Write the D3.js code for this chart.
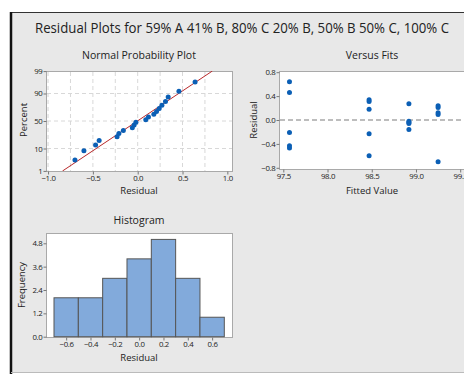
<!DOCTYPE html>
<html>
<head>
<meta charset="utf-8">
<script src="https://cdn.jsdelivr.net/npm/d3@7"></script>
<style>
  html, body { margin: 0; padding: 0; background: #fff; }
  svg text { font-family: "Open Sans", "Noto Sans", sans-serif; fill: #222; }
</style>
</head>
<body>
<div id="chart"></div>
<script>
// Data
const fittedValues = [97.57, 98.47, 98.92, 99.25]
const residualsA = [0.64, 0.46, -0.21, -0.43, -0.47]   // fit 97.57
const residualsB = [0.34, 0.31, 0.18, -0.23, -0.60]    // fit 98.47
const residualsC = [0.27, -0.02, -0.04, -0.06, -0.16]  // fit 98.92
const residualsD = [0.24, 0.21, 0.12, 0.09, -0.70]     // fit 99.25
const histCenters = [-0.6, -0.4, -0.2, 0.0, 0.2, 0.4, 0.6]
const histCounts = [2, 2, 3, 4, 5, 3, 1]

const percentTicks = [1, 10, 50, 90, 99]
const probXTicks = [-1.0, -0.5, 0.0, 0.5, 1.0]
const fitXTicks = [97.5, 98.0, 98.5, 99.0, 99.5]
const fitYTicks = [-0.8, -0.4, 0.0, 0.4, 0.8]
const histXTicks = [-0.6, -0.4, -0.2, 0.0, 0.2, 0.4, 0.6]
const histYTicks = [0.0, 1.2, 2.4, 3.6, 4.8]

const width = 464
const height = 374

// inverse normal cdf (Acklam)
function probit(p) {
    const a = [-39.69683028665376, 220.9460984245205, -275.9285104469687, 138.3577518672690, -30.66479806614716, 2.506628277459239]
    const b = [-54.47609879822406, 161.5858368580409, -155.6989798598866, 66.80131188771972, -13.28068155288572]
    const c = [-0.007784894002430293, -0.3223964580411365, -2.400758277161838, -2.549732539343734, 4.374664141464968, 2.938163982698783]
    const d = [0.007784695709041462, 0.3224671290700398, 2.445134137142996, 3.754408661907416]
    const pl = 0.02425
    let q, r
    if (p < pl) {
        q = Math.sqrt(-2 * Math.log(p))
        return (((((c[0]*q+c[1])*q+c[2])*q+c[3])*q+c[4])*q+c[5]) / ((((d[0]*q+d[1])*q+d[2])*q+d[3])*q+1)
    } else if (p <= 1 - pl) {
        q = p - 0.5; r = q * q
        return (((((a[0]*r+a[1])*r+a[2])*r+a[3])*r+a[4])*r+a[5])*q / (((((b[0]*r+b[1])*r+b[2])*r+b[3])*r+b[4])*r+1)
    } else {
        q = Math.sqrt(-2 * Math.log(1 - p))
        return -(((((c[0]*q+c[1])*q+c[2])*q+c[3])*q+c[4])*q+c[5]) / ((((d[0]*q+d[1])*q+d[2])*q+d[3])*q+1)
    }
}

const groups = [residualsA, residualsB, residualsC, residualsD]
const points = []
groups.forEach((g, i) => g.forEach(r => points.push({ fit: fittedValues[i], res: r })))
const allRes = points.map(d => d.res)

const svg = d3.select("#chart")
    .append("svg")
    .attr("width", width)
    .attr("height", height)

// Frame
svg.append("rect")
    .attr("x", 11).attr("y", 12)
    .attr("width", width).attr("height", 360)
    .attr("fill", "#e8e8e8")
svg.append("line").attr("x1", 10).attr("x2", width).attr("y1", 12.5).attr("y2", 12.5)
    .attr("stroke", "#333").attr("stroke-width", 1)
svg.append("line").attr("x1", 11).attr("x2", 11).attr("y1", 12).attr("y2", height)
    .attr("stroke", "#111").attr("stroke-width", 2.5)
svg.append("line").attr("x1", 11).attr("x2", width).attr("y1", 372.5).attr("y2", 372.5)
    .attr("stroke", "#bbb").attr("stroke-width", 1)

svg.append("text")
    .attr("x", 35).attr("y", 33)
    .attr("textLength", 414)
    .attr("lengthAdjust", "spacingAndGlyphs")
    .style("font-size", "14.5px")
    .text("Residual Plots for 59% A 41% B, 80% C 20% B, 50% B 50% C, 100% C")

const tickFont = "7.8px"
const gridColor = "#d8d8d8"

function styleAxis(g) {
    g.select(".domain").remove()
    g.selectAll(".tick line").attr("stroke", "#777")
    g.selectAll(".tick text").style("font-size", tickFont).style("letter-spacing", "-0.3px").attr("fill", "#111")
}

function box(x0, y0, x1, y1) {
    svg.append("rect")
        .attr("x", x0 + 0.5).attr("y", y0 + 0.5)
        .attr("width", x1 - x0).attr("height", y1 - y0)
        .attr("fill", "#fff")
        .attr("stroke", "#a9a9a9")
}

function labels(title, tx, ty, xl, xly, yl, ylx, yly) {
    svg.append("text").attr("x", tx).attr("y", ty).attr("text-anchor", "middle")
        .style("font-size", "10.5px").text(title)
    svg.append("text").attr("x", tx).attr("y", xly).attr("text-anchor", "middle")
        .style("font-size", "9.5px").text(xl)
    svg.append("text").attr("transform", `translate(${ylx},${yly}) rotate(-90)`)
        .attr("text-anchor", "middle").style("font-size", "9.5px").text(yl)
}

// ---------- Normal Probability Plot ----------
const p1 = { x0: 46, y0: 71, x1: 232, y1: 171 }
box(p1.x0, p1.y0, p1.x1, p1.y1)

const xProb = d3.scaleLinear().domain([-1.023, 1.052]).range([p1.x0, p1.x1])
const yProb = d3.scaleLinear().domain([-2.33, 2.33]).range([p1.y1, p1.y0])

const probGroup = svg.append("g")
probGroup.selectAll(".vgrid")
    .data(d3.range(-1.0, 1.01, 0.25).filter(v => Math.abs(v - 1) > 1e-6))
    .join("line")
    .attr("x1", d => xProb(d)).attr("x2", d => xProb(d))
    .attr("y1", p1.y0 + 1).attr("y2", p1.y1)
    .attr("stroke", gridColor).attr("stroke-dasharray", "4,3")
probGroup.selectAll(".hgrid")
    .data([10, 50, 90])
    .join("line")
    .attr("x1", p1.x0 + 1).attr("x2", p1.x1)
    .attr("y1", d => yProb(probit(d / 100))).attr("y2", d => yProb(probit(d / 100)))
    .attr("stroke", gridColor).attr("stroke-dasharray", "4,3")

// fitted normal line
const mean = d3.mean(allRes)
const sd = d3.deviation(allRes)
const zLine = [-2.33, 2.33]
svg.append("clipPath").attr("id", "clip1")
    .append("rect").attr("x", p1.x0).attr("y", p1.y0).attr("width", p1.x1 - p1.x0).attr("height", p1.y1 - p1.y0)
probGroup.append("path")
    .datum(zLine)
    .attr("clip-path", "url(#clip1)")
    .attr("d", d3.line().x(z => xProb(mean + sd * z)).y(z => yProb(z)))
    .attr("stroke", "#b8282a").attr("stroke-width", 1).attr("fill", "none")

const sorted = allRes.slice().sort(d3.ascending)
const n = sorted.length
probGroup.selectAll(".pt")
    .data(sorted)
    .join("circle")
    .attr("cx", d => xProb(d))
    .attr("cy", (d, i) => yProb(probit((i + 1 - 0.3) / (n + 0.4))))
    .attr("r", 2.5)
    .attr("fill", "#0b5fb5")

svg.append("g").attr("transform", `translate(0,${p1.y1 + 0.5})`)
    .call(d3.axisBottom(xProb).tickValues(probXTicks).tickFormat(d3.format(".1f")).tickSize(3).tickPadding(1))
    .call(styleAxis)
svg.append("g").attr("transform", `translate(${p1.x0 + 0.5},0)`)
    .call(d3.axisLeft(yProb).tickValues(percentTicks.map(p => probit(p / 100))).tickFormat((d, i) => percentTicks[i]).tickSize(3).tickPadding(1))
    .call(styleAxis)

labels("Normal Probability Plot", 139, 59, "Residual", 194, "Percent", 27, 120)

// ---------- Versus Fits ----------
const p2 = { x0: 279, y0: 71, x1: 470, y1: 169 }
box(p2.x0, p2.y0, p2.x1, p2.y1)

const xFit = d3.scaleLinear().domain([97.5, 99.5]).range([283.3, 460.2])
const yFit = d3.scaleLinear().domain([-0.8, 0.8]).range([167.8, 72.2])

svg.append("line")
    .attr("x1", p2.x0 + 1).attr("x2", p2.x1)
    .attr("y1", yFit(0)).attr("y2", yFit(0))
    .attr("stroke", "#a8a8a8").attr("stroke-width", 1.5).attr("stroke-dasharray", "5,3")

svg.append("g").selectAll("circle")
    .data(points)
    .join("circle")
    .attr("cx", d => xFit(d.fit))
    .attr("cy", d => yFit(d.res))
    .attr("r", 2.5)
    .attr("fill", "#0b5fb5")

svg.append("g").attr("transform", `translate(0,${p2.y1 + 0.5})`)
    .call(d3.axisBottom(xFit).tickValues(fitXTicks).tickFormat(d3.format(".1f")).tickSize(3).tickPadding(1))
    .call(styleAxis)
svg.append("g").attr("transform", `translate(${p2.x0 + 0.5},0)`)
    .call(d3.axisLeft(yFit).tickValues(fitYTicks).tickFormat(d3.format(".1f")).tickSize(3).tickPadding(1))
    .call(styleAxis)

labels("Versus Fits", 372, 59, "Fitted Value", 194, "Residual", 257, 120)

// ---------- Histogram ----------
const p3 = { x0: 46, y0: 233, x1: 232, y1: 337 }
box(p3.x0, p3.y0, p3.x1, p3.y1)

const xHist = d3.scaleLinear().domain([-0.7, 0.7]).range([54, 224.3])
const yHist = d3.scaleLinear().domain([0, 4.8]).range([336.7, 243.3])
const binW = 0.2

svg.append("g").selectAll("rect")
    .data(histCounts.map((c, i) => ({ center: histCenters[i], count: c })))
    .join("rect")
    .attr("x", d => xHist(d.center - binW / 2))
    .attr("y", d => yHist(d.count))
    .attr("width", d => xHist(d.center + binW / 2) - xHist(d.center - binW / 2))
    .attr("height", d => yHist(0) - yHist(d.count))
    .attr("fill", "#82aadb")
    .attr("stroke", "#555")
    .attr("stroke-width", 1)

svg.append("g").attr("transform", `translate(0,${p3.y1 + 0.5})`)
    .call(d3.axisBottom(xHist).tickValues(histXTicks).tickFormat(d3.format(".1f")).tickSize(3).tickPadding(1))
    .call(styleAxis)
svg.append("g").attr("transform", `translate(${p3.x0 + 0.5},0)`)
    .call(d3.axisLeft(yHist).tickValues(histYTicks).tickFormat(d3.format(".1f")).tickSize(3).tickPadding(1))
    .call(styleAxis)

labels("Histogram", 139, 224, "Residual", 361, "Frequency", 25, 285)
</script>
</body>
</html>
